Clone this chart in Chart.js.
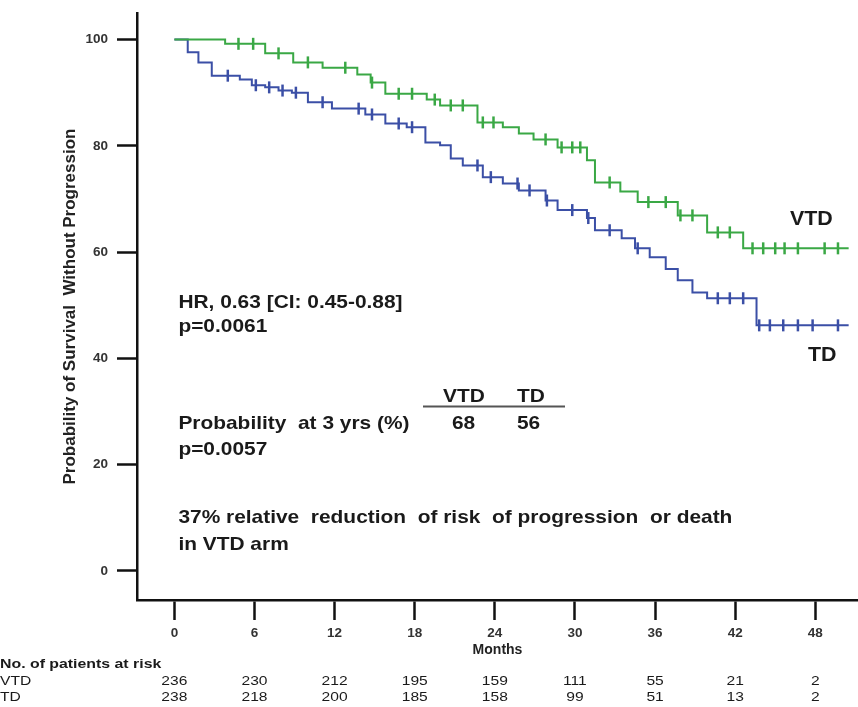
<!DOCTYPE html>
<html lang="en">
<head>
    <meta charset="UTF-8">
    <title>Probability of Survival Without Progression - VTD vs TD</title>
    <script src="https://cdn.jsdelivr.net/npm/chart.js@4"></script>
    <style>
        body { margin: 0; background: #fff; }
        #wrap { width: 858px; height: 707px; }
    </style>
</head>
<body>
    <div id="wrap"><canvas id="km" width="858" height="707"></canvas></div>

    <script>
        // Kaplan-Meier steps: month of each drop and survival (%) after it
        const vtdMonths = [0, 3.8, 6.8, 8.9, 11.1, 13.7, 14.7, 15.8, 18.9, 19.9, 22.7, 24.6, 25.8, 26.9, 28.7, 30.9, 31.5, 33.4, 34.7, 37.7, 39.9, 42.6, 50.5];
        const vtdSurv   = [100, 99.2, 97.4, 95.7, 94.7, 93.4, 91.9, 89.8, 88.7, 87.6, 84.4, 83.5, 82.3, 81.2, 79.7, 77.3, 73.1, 71.4, 69.4, 66.9, 63.7, 60.7, 60.7];
        const tdMonths  = [0, 1.0, 1.8, 2.8, 4.9, 5.8, 6.8, 7.8, 8.8, 10.0, 11.8, 14.3, 15.8, 17.4, 18.8, 19.9, 20.7, 21.6, 23.1, 24.6, 25.8, 27.8, 28.7, 30.9, 31.5, 33.5, 34.5, 35.6, 36.8, 37.7, 38.8, 39.9, 43.6, 50.5];
        const tdSurv    = [100, 97.6, 95.7, 93.2, 92.5, 91.4, 91.0, 90.4, 90.0, 88.2, 87.0, 85.9, 84.2, 83.5, 80.6, 80.1, 77.6, 76.3, 74.1, 72.9, 71.6, 69.7, 67.9, 66.4, 64.1, 62.6, 60.7, 59.0, 56.8, 54.7, 52.4, 51.3, 46.2, 46.2];

        // censored observations (months)
        const vtdCensor = [4.8, 5.9, 7.8, 10.0, 12.8, 14.8, 16.8, 17.8, 19.5, 20.7, 21.6, 23.1, 23.9, 27.8, 29.0, 29.8, 30.4, 32.6, 35.5, 36.8, 37.9, 38.8, 40.7, 41.6, 43.3, 44.1, 45.0, 45.7, 46.7, 48.7, 49.7];
        const tdCensor  = [4.0, 6.1, 7.1, 8.1, 9.1, 11.1, 13.8, 14.8, 16.8, 17.8, 22.7, 23.7, 25.7, 26.6, 27.9, 29.8, 31.0, 32.6, 34.7, 40.7, 41.6, 42.6, 43.8, 44.6, 45.6, 46.7, 47.8, 49.7];

        const xTicks = [0, 6, 12, 18, 24, 30, 36, 42, 48];
        const yTicks = [0, 20, 40, 60, 80, 100];
        const riskVTD = [236, 230, 212, 195, 159, 111, 55, 21, 2];
        const riskTD  = [238, 218, 200, 185, 158, 99, 51, 13, 2];

        const GREEN = '#3aa845';
        const BLUE = '#3b4fa6';
        const FONT = "'Liberation Sans', Arial, sans-serif";
        const NARROW = "'Liberation Sans Narrow', 'Arial Narrow', 'Liberation Sans', sans-serif";

        const survAt = (months, surv, t) => {
            let v = surv[0];
            months.forEach((m, i) => { if (m <= t) v = surv[i]; });
            return v;
        };
        const steps = (months, surv) => months.map((m, i) => ({ x: m, y: surv[i] }));
        const marks = (cens, months, surv) => cens.map(t => ({ x: t, y: survAt(months, surv, t) }));

        // text drawn a little wider, like the stretched slide
        const say = (ctx, str, x, y, size, opts = {}) => {
            ctx.save();
            ctx.font = `${opts.weight || 'bold'} ${size}px ${opts.family || FONT}`;
            ctx.fillStyle = opts.color || '#1a1a1a';
            ctx.textAlign = opts.align || 'left';
            ctx.textBaseline = 'alphabetic';
            ctx.translate(x, y);
            ctx.scale(opts.sx || 1.1, 1);
            ctx.fillText(str, 0, 0);
            ctx.restore();
        };

        const notes = {
            id: 'notes',
            afterDraw(chart) {
                const { ctx } = chart;
                const xs = chart.scales.x;
                const left = xs.getPixelForValue(0) + 4;

                say(ctx, 'HR, 0.63 [CI: 0.45-0.88]', left, 308, 19);
                say(ctx, 'p=0.0061', left, 332, 19);

                say(ctx, 'VTD', 443, 402, 19);
                say(ctx, 'TD', 517, 402, 19);
                ctx.save();
                ctx.strokeStyle = '#555';
                ctx.lineWidth = 2;
                ctx.beginPath();
                ctx.moveTo(423, 406.5);
                ctx.lineTo(565, 406.5);
                ctx.stroke();
                ctx.restore();
                say(ctx, 'Probability  at 3 yrs (%)', left, 429, 19);
                say(ctx, '68', 452, 429, 19);
                say(ctx, '56', 517, 429, 19);
                say(ctx, 'p=0.0057', left, 455, 19);

                say(ctx, '37% relative  reduction  of risk  of progression  or death', left, 523, 19);
                say(ctx, 'in VTD arm', left, 550, 19);

                say(ctx, 'VTD', 790, 225, 20, { sx: 1.07 });
                say(ctx, 'TD', 808, 361, 20, { sx: 1.07 });

                // patients at risk
                say(ctx, 'No. of patients at risk', 0, 668, 13, { family: NARROW, sx: 1.22 });
                say(ctx, 'VTD', 0, 685, 13, { family: NARROW, weight: 'normal', sx: 1.2 });
                say(ctx, 'TD', 0, 701, 13, { family: NARROW, weight: 'normal', sx: 1.2 });
                xTicks.forEach((t, i) => {
                    const px = xs.getPixelForValue(t);
                    say(ctx, String(riskVTD[i]), px, 685, 13, { family: NARROW, weight: 'normal', align: 'center', sx: 1.2 });
                    say(ctx, String(riskTD[i]), px, 701, 13, { family: NARROW, weight: 'normal', align: 'center', sx: 1.2 });
                });
            }
        };

        new Chart(document.getElementById('km').getContext('2d'), {
            type: 'line',
            data: {
                datasets: [{
                    label: 'VTD',
                    data: steps(vtdMonths, vtdSurv),
                    borderColor: GREEN,
                    borderWidth: 2,
                    stepped: 'before',
                    pointRadius: 0,
                    fill: false
                }, {
                    label: 'TD',
                    data: steps(tdMonths, tdSurv),
                    borderColor: BLUE,
                    borderWidth: 2,
                    stepped: 'before',
                    pointRadius: 0,
                    fill: false
                }, {
                    label: 'VTD censored',
                    data: marks(vtdCensor, vtdMonths, vtdSurv),
                    showLine: false,
                    pointStyle: 'line',
                    rotation: 90,
                    pointRadius: 6,
                    pointBorderWidth: 2.5,
                    pointBorderColor: GREEN,
                    borderColor: GREEN
                }, {
                    label: 'TD censored',
                    data: marks(tdCensor, tdMonths, tdSurv),
                    showLine: false,
                    pointStyle: 'line',
                    rotation: 90,
                    pointRadius: 6,
                    pointBorderWidth: 2.5,
                    pointBorderColor: BLUE,
                    borderColor: BLUE
                }]
            },
            options: {
                responsive: false,
                animation: false,
                layout: { autoPadding: false, padding: { top: 13, right: 0, bottom: 0, left: 0 } },
                plugins: { legend: { display: false }, tooltip: { enabled: false } },
                scales: {
                    x: {
                        type: 'linear',
                        min: -2.8,
                        max: 51.2,
                        afterBuildTicks: s => { s.ticks = xTicks.map(v => ({ value: v })); },
                        afterFit: s => { s.height = 107; s.paddingRight = 0; s.paddingLeft = 0; },
                        grid: { drawOnChartArea: false, drawTicks: true, tickLength: 20, tickWidth: 2.5, tickColor: '#111' },
                        border: { display: true, color: '#111', width: 2.5 },
                        ticks: { font: { family: FONT, size: 13.5, weight: 'bold' }, color: '#333', padding: 5, maxRotation: 0 },
                        title: { display: true, text: 'Months', font: { family: FONT, size: 14, weight: 'bold' }, color: '#222', padding: { top: 0, bottom: 48 } }
                    },
                    y: {
                        min: -5.5,
                        max: 105,
                        afterBuildTicks: s => { s.ticks = yTicks.map(v => ({ value: v })); },
                        afterFit: s => { s.width = 137; s.paddingTop = 0; },
                        grid: { drawOnChartArea: false, drawTicks: true, tickLength: 20, tickWidth: 2.5, tickColor: '#111' },
                        border: { display: true, color: '#111', width: 2.5 },
                        ticks: { font: { family: FONT, size: 13.5, weight: 'bold' }, color: '#333', padding: 9 },
                        title: { display: true, text: 'Probability of Survival  Without Progression', font: { family: FONT, size: 17, weight: 'bold' }, color: '#222', padding: { top: 60, bottom: 0 } }
                    }
                }
            },
            plugins: [notes]
        });
    </script>
</body>
</html>
